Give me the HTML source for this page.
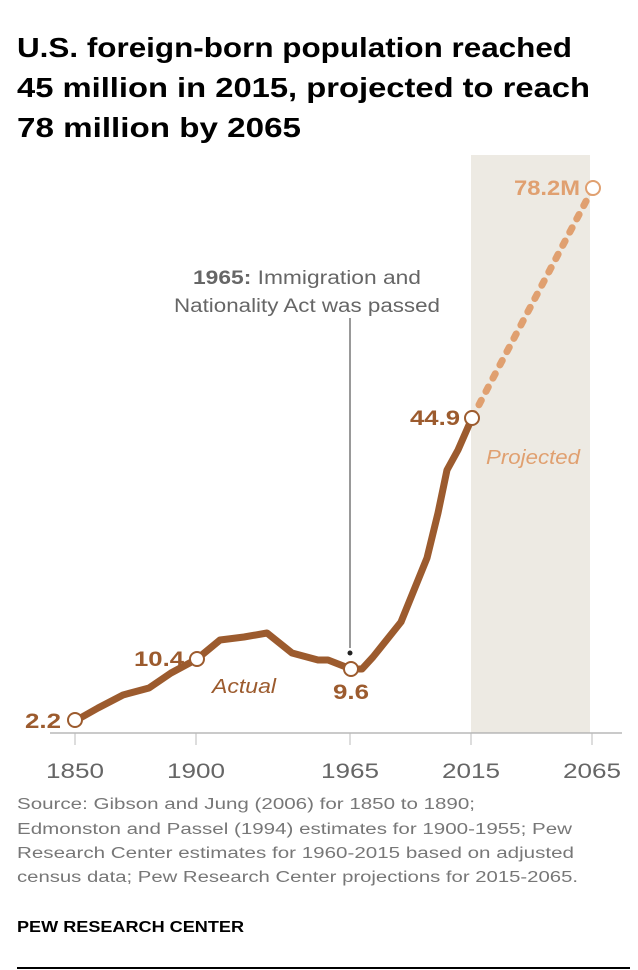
<!DOCTYPE html>
<html><head><meta charset="utf-8"><style>
html,body{margin:0;padding:0;background:#fff;}
svg{display:block;font-family:"Liberation Sans",sans-serif;}
</style></head><body>
<svg width="638" height="970" viewBox="0 0 638 970" xmlns="http://www.w3.org/2000/svg">
<g font-weight="bold" font-size="28" fill="#000">
<text x="17" y="57" textLength="555" lengthAdjust="spacingAndGlyphs">U.S. foreign-born population reached</text>
<text x="17" y="97" textLength="573" lengthAdjust="spacingAndGlyphs">45 million in 2015, projected to reach</text>
<text x="17" y="137" textLength="284" lengthAdjust="spacingAndGlyphs">78 million by 2065</text>
</g>
<rect x="471" y="155" width="119" height="578" fill="#edeae3"/>
<line x1="50" y1="733" x2="622" y2="733" stroke="#aaa" stroke-width="1.2"/>
<g stroke="#bbb" stroke-width="1"><line x1="75" y1="733" x2="75" y2="745"/><line x1="196" y1="733" x2="196" y2="745"/><line x1="350" y1="733" x2="350" y2="745"/><line x1="471" y1="733" x2="471" y2="745"/><line x1="592" y1="733" x2="592" y2="745"/></g>
<g font-size="21" fill="#666" text-anchor="middle">
<text x="75" y="778" textLength="58" lengthAdjust="spacingAndGlyphs">1850</text>
<text x="196" y="778" textLength="58" lengthAdjust="spacingAndGlyphs">1900</text>
<text x="350" y="778" textLength="58" lengthAdjust="spacingAndGlyphs">1965</text>
<text x="471" y="778" textLength="58" lengthAdjust="spacingAndGlyphs">2015</text>
<text x="592" y="778" textLength="58" lengthAdjust="spacingAndGlyphs">2065</text>
</g>
<line x1="350" y1="318" x2="350" y2="648" stroke="#333" stroke-width="1"/>
<circle cx="350" cy="653" r="2.5" fill="#222"/>
<g font-size="19" fill="#666" text-anchor="middle">
<text x="307" y="284" textLength="228" lengthAdjust="spacingAndGlyphs"><tspan font-weight="bold">1965:</tspan> Immigration and</text>
<text x="307" y="312" textLength="266" lengthAdjust="spacingAndGlyphs">Nationality Act was passed</text>
</g>
<path d="M472,418 L593,188" stroke="#e0a070" stroke-width="7" stroke-dasharray="5 10" stroke-linecap="round" fill="none"/>
<polyline points="75,721 98,708 123,695 149,688 171,673 197,659 220,640 244,637 267,633 292,653 318,660 328,660 351,669 362,669 373,657 401,622 427,558 438,513 447,470 458,450 472,418" fill="none" stroke="#9c5b2e" stroke-width="7" stroke-linejoin="round"/>
<g fill="#fff" stroke="#9c5b2e" stroke-width="2"><circle cx="75" cy="720" r="7"/><circle cx="197" cy="659" r="7"/><circle cx="351" cy="669" r="7"/><circle cx="472" cy="418" r="7"/></g>
<circle cx="593" cy="188" r="7" fill="#fff" stroke="#e0a070" stroke-width="2"/>
<g font-weight="bold" font-size="21" fill="#9c5b2e">
<text x="61" y="728" text-anchor="end" textLength="36" lengthAdjust="spacingAndGlyphs">2.2</text>
<text x="184" y="666" text-anchor="end" textLength="50" lengthAdjust="spacingAndGlyphs">10.4</text>
<text x="351" y="699" text-anchor="middle" textLength="36" lengthAdjust="spacingAndGlyphs">9.6</text>
<text x="460" y="425" text-anchor="end" textLength="50" lengthAdjust="spacingAndGlyphs">44.9</text>
<text x="580" y="195" text-anchor="end" fill="#e0a070" textLength="66" lengthAdjust="spacingAndGlyphs">78.2M</text>
</g>
<text x="212" y="693" font-size="20" font-style="italic" fill="#9c5b2e" textLength="64" lengthAdjust="spacingAndGlyphs">Actual</text>
<text x="486" y="464" font-size="20" font-style="italic" fill="#e0a070" textLength="94" lengthAdjust="spacingAndGlyphs">Projected</text>
<g font-size="15.5" fill="#777">
<text x="17" y="809" textLength="458" lengthAdjust="spacingAndGlyphs">Source: Gibson and Jung (2006) for 1850 to 1890;</text>
<text x="17" y="834" textLength="555" lengthAdjust="spacingAndGlyphs">Edmonston and Passel (1994) estimates for 1900-1955; Pew</text>
<text x="17" y="858" textLength="557" lengthAdjust="spacingAndGlyphs">Research Center estimates for 1960-2015 based on adjusted</text>
<text x="17" y="882" textLength="561" lengthAdjust="spacingAndGlyphs">census data; Pew Research Center projections for 2015-2065.</text>
</g>
<text x="17" y="932" font-size="16" font-weight="bold" fill="#000" textLength="227" lengthAdjust="spacingAndGlyphs">PEW RESEARCH CENTER</text>
<line x1="17" y1="968" x2="630" y2="968" stroke="#000" stroke-width="2"/>
</svg>
</body></html>
